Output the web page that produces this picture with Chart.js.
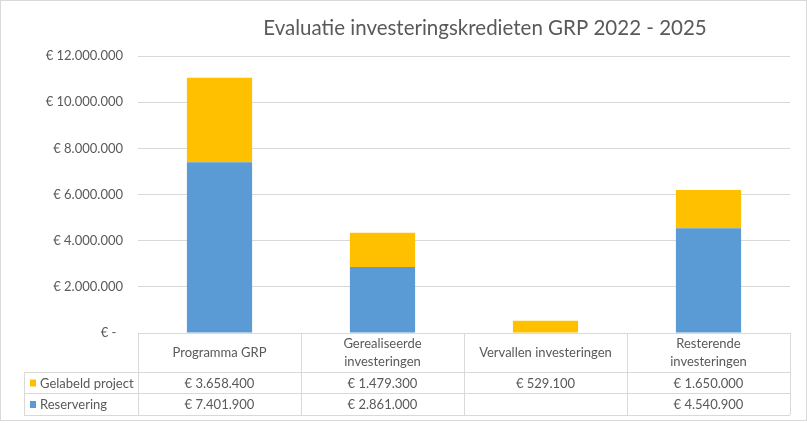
<!DOCTYPE html>
<html>
<head>
<meta charset="utf-8">
<script src="https://cdn.jsdelivr.net/npm/chart.js@4.4.0/dist/chart.umd.min.js"></script>
<style>
  body { margin: 0; background: #fff; }
  #wrap { width: 807px; height: 423px; position: relative; }
</style>
</head>
<body>
<div id="wrap"><canvas id="chart"></canvas></div>
<script>
const title = "Evaluatie investeringskredieten GRP 2022 - 2025";
const categories = [
  ["Programma GRP"],
  ["Gerealiseerde", "investeringen"],
  ["Vervallen investeringen"],
  ["Resterende", "investeringen"],
];
const reservering = [7401900, 2861000, null, 4540900];
const gelabeld = [3658400, 1479300, 529100, 1650000];
const yTicks = [0, 2000000, 4000000, 6000000, 8000000, 10000000, 12000000];

const textColor = "#595959";
const lineColor = "#d9d9d9";
const font = "Lato, 'Noto Sans', sans-serif";

function euro(v) {
  if (v === null || v === undefined) return "";
  if (v === 0) return "€ -  ";
  return "€ " + String(v).replace(/\B(?=(\d{3})+(?!\d))/g, ".");
}

const datasets = [
  { label: "Reservering", data: reservering, backgroundColor: "#5b9bd5" },
  { label: "Gelabeld project", data: gelabeld, backgroundColor: "#ffc000" },
];

// table under the plot, like Excel's data table
const tablePlugin = {
  id: "dataTable",
  afterDraw(chart) {
    const ctx = chart.ctx;
    const area = chart.chartArea;
    const xs = chart.scales.x;
    const colW = area.width / categories.length;
    const top = area.bottom;
    const catBottom = 372, row1 = 393, row2 = 415, legLeft = 24;

    ctx.save();
    ctx.strokeStyle = lineColor;
    ctx.lineWidth = 1;
    ctx.beginPath();
    // horizontal lines
    ctx.moveTo(area.left, top + 0.5); ctx.lineTo(area.right, top + 0.5);
    [catBottom, row1, row2].forEach(y => {
      ctx.moveTo(legLeft, y + 0.5); ctx.lineTo(area.right, y + 0.5);
    });
    // vertical lines
    for (let i = 0; i <= categories.length; i++) {
      const x = Math.round(area.left + i * colW) + 0.5;
      ctx.moveTo(x, top); ctx.lineTo(x, row2);
    }
    ctx.moveTo(legLeft + 0.5, catBottom); ctx.lineTo(legLeft + 0.5, row2);
    ctx.stroke();

    ctx.fillStyle = textColor;
    ctx.font = "13px " + font;
    ctx.textAlign = "center";
    ctx.textBaseline = "middle";
    categories.forEach((lines, i) => {
      const cx = xs.getPixelForValue(i);
      const mid = (top + catBottom) / 2;
      lines.forEach((t, j) => {
        ctx.fillText(t, cx, mid + (j - (lines.length - 1) / 2) * 18);
      });
    });

    const rows = [
      { ds: datasets[1], y: (catBottom + row1) / 2 },
      { ds: datasets[0], y: (row1 + row2) / 2 },
    ];
    rows.forEach(r => {
      ctx.textAlign = "center";
      ctx.fillStyle = textColor;
      r.ds.data.forEach((v, i) => {
        ctx.fillText(euro(v), xs.getPixelForValue(i), r.y + 1);
      });
      ctx.fillStyle = r.ds.backgroundColor;
      ctx.fillRect(30, r.y - 3, 6, 7);
      ctx.fillStyle = textColor;
      ctx.textAlign = "left";
      ctx.fillText(r.ds.label, 40, r.y + 1);
    });

    // title
    ctx.font = "20.5px " + font;
    ctx.textAlign = "center";
    ctx.fillText(title, 485, 28);

    // outer border
    ctx.strokeStyle = lineColor;
    ctx.strokeRect(0.5, 0.5, 806, 420);
    ctx.restore();
  },
};

new Chart(document.getElementById("chart"), {
  type: "bar",
  data: { labels: categories, datasets: datasets },
  options: {
    responsive: true,
    maintainAspectRatio: false,
    animation: false,
    layout: { padding: { top: 56, right: 17, bottom: 90, left: 0 } },
    datasets: { bar: { categoryPercentage: 0.8, barPercentage: 0.5 } },
    plugins: {
      legend: { display: false },
      title: { display: false },
      tooltip: { enabled: false },
    },
    scales: {
      x: { stacked: true, display: false },
      y: {
        stacked: true,
        min: 0,
        max: 12000000,
        afterBuildTicks(scale) {
          scale.ticks = yTicks.map(v => ({ value: v }));
        },
        afterFit(scale) { scale.width = 138; },
        border: { display: false },
        grid: { color: lineColor, drawTicks: false },
        ticks: {
          padding: 15,
          color: textColor,
          font: { family: font, size: 13 },
          callback: v => euro(v),
        },
      },
    },
  },
  plugins: [tablePlugin],
});
</script>
</body>
</html>
